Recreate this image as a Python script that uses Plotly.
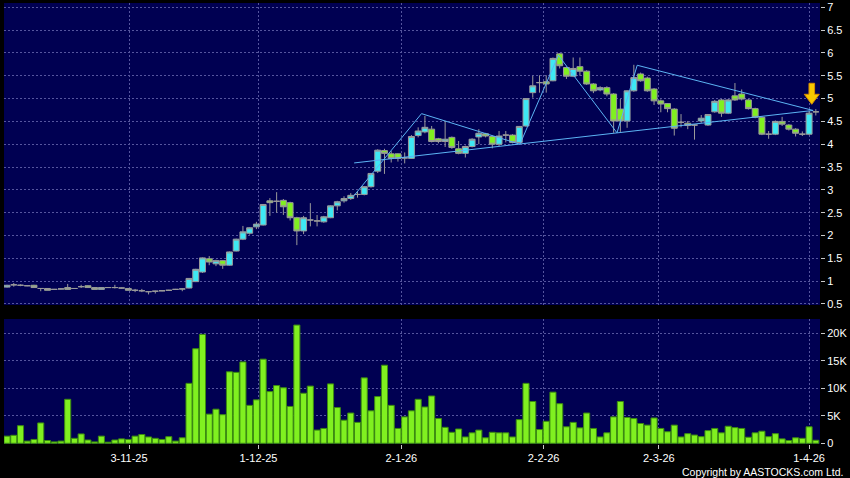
import plotly.graph_objects as go

# ---------------- data ----------------
bar_index = list(range(121))

opens = [0.87, 0.92, 0.91, 0.90, 0.91, 0.84, 0.84, 0.82, 0.83, 0.86,
         0.84, 0.88, 0.90, 0.86, 0.82, 0.86, 0.86, 0.85, 0.84, 0.80,
         0.79, 0.77, 0.78, 0.79, 0.80, 0.82, 0.83, 0.85, 0.99, 1.20,
         1.49, 1.38, 1.45, 1.35, 1.66, 1.92, 2.05, 2.19, 2.23, 2.76,
         2.75, 2.77, 2.72, 2.39, 2.10, 2.34, 2.32, 2.30, 2.39, 2.65,
         2.76, 2.81, 2.90, 2.90, 3.07, 3.41, 3.86, 3.79, 3.79, 3.70,
         3.69, 4.19, 4.27, 4.33, 4.12, 4.06, 4.15, 3.90, 3.80, 3.95,
         4.16, 4.23, 4.17, 4.00, 4.20, 4.20, 4.04, 4.40, 5.13, 5.35,
         5.37, 5.39, 5.98, 5.68, 5.49, 5.70, 5.60, 5.32, 5.19, 5.24,
         5.10, 4.77, 4.51, 5.17, 5.54, 5.45, 5.21, 4.95, 4.89, 4.77,
         4.48, 4.46, 4.42, 4.51, 4.42, 4.71, 4.97, 4.68, 5.06, 5.10,
         4.97, 4.78, 4.59, 4.22, 4.22, 4.50, 4.42, 4.33, 4.22, 4.22,
         4.71]
highs = [0.92, 0.96, 0.93, 0.91, 0.92, 0.85, 0.85, 0.83, 0.84, 0.94,
         0.85, 0.92, 0.91, 0.87, 0.87, 0.87, 0.92, 0.86, 0.85, 0.83,
         0.83, 0.78, 0.79, 0.80, 0.81, 0.83, 0.84, 1.07, 1.27, 1.52,
         1.55, 1.47, 1.46, 1.65, 1.93, 2.21, 2.18, 2.30, 2.69, 2.82,
         2.95, 2.80, 2.74, 2.41, 2.43, 2.71, 2.45, 2.43, 2.66, 2.76,
         2.86, 2.93, 2.97, 3.08, 3.37, 3.89, 3.90, 3.85, 3.80, 3.82,
         4.20, 4.37, 4.62, 4.40, 4.14, 4.51, 4.17, 4.07, 3.97, 4.13,
         4.33, 4.25, 4.19, 4.29, 4.29, 4.22, 4.40, 5.01, 5.50, 5.51,
         5.51, 5.90, 6.00, 5.70, 5.90, 5.90, 5.62, 5.34, 5.27, 5.27,
         5.12, 4.99, 5.18, 5.74, 5.57, 5.48, 5.23, 4.98, 4.90, 4.79,
         4.66, 4.51, 4.44, 4.64, 4.66, 4.97, 4.99, 4.99, 5.34, 5.20,
         4.99, 4.80, 4.61, 4.29, 4.52, 4.60, 4.44, 4.35, 4.28, 4.73,
         4.77]
lows = [0.86, 0.88, 0.89, 0.89, 0.86, 0.78, 0.80, 0.81, 0.82, 0.82,
        0.83, 0.85, 0.86, 0.82, 0.82, 0.85, 0.84, 0.84, 0.80, 0.76,
        0.76, 0.71, 0.73, 0.78, 0.79, 0.81, 0.78, 0.84, 0.98, 1.18,
        1.35, 1.33, 1.27, 1.34, 1.65, 1.90, 2.02, 2.14, 2.22, 2.43,
        2.50, 2.45, 2.33, 1.79, 2.03, 2.20, 2.20, 2.28, 2.38, 2.55,
        2.72, 2.78, 2.83, 2.88, 3.05, 3.37, 3.35, 3.60, 3.62, 3.58,
        3.68, 4.15, 4.24, 4.04, 4.02, 3.94, 3.90, 3.78, 3.71, 3.93,
        4.00, 4.15, 3.91, 3.96, 4.04, 4.02, 4.02, 4.38, 5.02, 5.13,
        5.13, 5.38, 5.66, 5.43, 5.47, 5.50, 5.30, 5.12, 5.16, 5.05,
        4.25, 4.27, 4.36, 5.15, 5.37, 5.15, 4.86, 4.70, 4.70, 4.19,
        4.37, 4.33, 4.10, 4.47, 4.40, 4.69, 4.60, 4.66, 4.95, 4.96,
        4.76, 4.57, 4.20, 4.12, 4.20, 4.40, 4.30, 4.17, 4.18, 4.20,
        4.63]
closes = [0.91, 0.92, 0.91, 0.90, 0.86, 0.84, 0.80, 0.82, 0.83, 0.82,
          0.84, 0.88, 0.86, 0.82, 0.86, 0.86, 0.86, 0.85, 0.80, 0.80,
          0.79, 0.77, 0.78, 0.79, 0.80, 0.82, 0.83, 1.06, 1.26, 1.51,
          1.42, 1.45, 1.35, 1.64, 1.92, 2.08, 2.17, 2.25, 2.68, 2.72,
          2.75, 2.63, 2.39, 2.10, 2.39, 2.34, 2.32, 2.41, 2.65, 2.74,
          2.81, 2.88, 2.90, 3.07, 3.36, 3.87, 3.80, 3.69, 3.69, 3.70,
          4.17, 4.29, 4.37, 4.06, 4.06, 4.11, 3.93, 3.80, 3.95, 4.11,
          4.24, 4.18, 4.00, 4.18, 4.20, 4.04, 4.39, 5.00, 5.28, 5.35,
          5.32, 5.88, 5.72, 5.49, 5.66, 5.60, 5.32, 5.17, 5.24, 5.10,
          4.51, 4.51, 5.17, 5.46, 5.39, 5.17, 4.95, 4.88, 4.78, 4.35,
          4.48, 4.41, 4.42, 4.57, 4.65, 4.94, 4.68, 4.97, 4.97, 4.99,
          4.78, 4.59, 4.22, 4.22, 4.50, 4.44, 4.33, 4.24, 4.22, 4.68,
          4.71]
volume_k = [1.3, 1.45, 3.2, 0.4, 0.7, 3.7, 0.5, 0.25, 0.4, 8.0,
            0.9, 1.7, 0.6, 0.25, 1.3, 0.2, 0.6, 0.8, 0.7, 1.3,
            1.6, 1.15, 0.9, 0.7, 1.2, 0.4, 1.0, 10.9, 17.2, 19.8,
            5.3, 6.2, 5.2, 13.0, 12.9, 14.8, 6.9, 7.9, 15.3, 9.4,
            10.5, 10.1, 6.7, 21.5, 9.1, 10.4, 2.4, 2.7, 10.8, 6.5,
            4.2, 5.5, 3.8, 11.9, 5.9, 8.5, 14.2, 6.9, 2.7, 4.8,
            5.9, 8.0, 6.6, 8.6, 4.5, 2.9, 2.0, 2.6, 1.15, 1.9,
            2.4, 1.0, 2.0, 1.9, 1.9, 1.15, 4.3, 10.9, 7.6, 2.5,
            4.0, 9.3, 7.2, 3.0, 3.8, 2.8, 5.5, 2.7, 1.15, 1.9,
            4.8, 7.6, 4.7, 4.5, 3.6, 3.3, 4.6, 2.7, 2.1, 3.3,
            1.15, 1.75, 1.5, 1.2, 2.3, 2.7, 1.9, 3.1, 2.85, 2.7,
            1.1, 1.9, 2.2, 1.2, 1.75, 0.8, 0.5, 1.0, 0.9, 3.0,
            0.55]

# trend lines (bar index, price)
zigzag_x = [51.4, 61.5, 76.1, 81.8, 90.5, 93.5, 119.6]
zigzag_y = [2.86, 4.67, 4.00, 5.95, 4.25, 5.73, 4.74]
support_x = [51.5, 119.6]
support_y = [3.59, 4.74]

date_tick_pos = [18.1, 37.3, 58.5, 79.6, 96.7, 119.0]
date_tick_labels = ["3-11-25", "1-12-25", "2-1-26", "2-2-26", "2-3-26", "1-4-26"]

price_ticks = [0.5, 1, 1.5, 2, 2.5, 3, 3.5, 4, 4.5, 5, 5.5, 6, 6.5, 7]
price_tick_labels = ["0.5", "1", "1.5", "2", "2.5", "3", "3.5", "4", "4.5", "5", "5.5", "6", "6.5", "7"]
vol_ticks = [0, 5, 10, 15, 20]
vol_tick_labels = ["0", "5K", "10K", "15K", "20K"]

# ---------------- style ----------------
NAVY = "#000052"
GRID = "#55559e"
CYAN = "#3ee8f4"
GREEN = "#80f020"
WICK = "#9a9a9a"
FONT = "Liberation Sans, Arial, sans-serif"

fig = go.Figure()

fig.add_trace(go.Candlestick(
    x=bar_index, open=opens, high=highs, low=lows, close=closes,
    xaxis="x", yaxis="y",
    increasing=dict(fillcolor=CYAN, line=dict(color=WICK, width=1)),
    decreasing=dict(fillcolor=GREEN, line=dict(color=WICK, width=1)),
    whiskerwidth=0, hoverinfo="skip", showlegend=False,
))

fig.add_trace(go.Scatter(x=support_x, y=support_y, mode="lines",
                         line=dict(color="#5cb4f4", width=1),
                         xaxis="x", yaxis="y", hoverinfo="skip", showlegend=False))
fig.add_trace(go.Scatter(x=zigzag_x, y=zigzag_y, mode="lines",
                         line=dict(color="#5cb4f4", width=1),
                         xaxis="x", yaxis="y", hoverinfo="skip", showlegend=False))

fig.add_trace(go.Bar(
    x=bar_index, y=volume_k, xaxis="x2", yaxis="y2",
    marker=dict(color=GREEN, line=dict(color="#3c8c10", width=1)),
    hoverinfo="skip", showlegend=False,
))

axis_font = dict(family=FONT, size=11, color="#ffffff")
x_range = [-0.45, 120.62]

fig.update_layout(
    width=850, height=478,
    margin=dict(l=4, r=30, t=3, b=34, autoexpand=False),
    paper_bgcolor="#000000",
    plot_bgcolor=NAVY,
    boxgap=0.12,
    boxgroupgap=0,
    bargap=0.1,
    font=dict(family=FONT, color="#ffffff", size=11),
    xaxis=dict(domain=[0, 1], anchor="y", range=x_range, matches="x2",
               tickvals=date_tick_pos, showticklabels=False, ticks="",
               showgrid=True, gridcolor=GRID, griddash="2px,2px", gridwidth=1,
               zeroline=False, showline=False, automargin=False,
               rangeslider=dict(visible=False)),
    xaxis2=dict(domain=[0, 1], anchor="y2", range=x_range,
                tickvals=date_tick_pos, ticktext=date_tick_labels,
                ticks="outside", ticklen=4, tickcolor="#c8c8c8",
                tickfont=axis_font, automargin=False,
                showgrid=True, gridcolor=GRID, griddash="2px,2px", gridwidth=1,
                zeroline=False, showline=False),
    yaxis=dict(domain=[0.3152, 1], anchor="x", side="right",
               range=[0.478, 7.094],
               tickvals=price_ticks, ticktext=price_tick_labels,
               ticks="outside", ticklen=4, tickcolor="#c8c8c8",
               tickfont=axis_font, automargin=False,
               showgrid=True, gridcolor=GRID, griddash="2px,2px", gridwidth=1,
               zeroline=False, showline=False),
    yaxis2=dict(domain=[0, 0.2834], anchor="x2", side="right",
                range=[-0.13, 22.6],
                tickvals=vol_ticks, ticktext=vol_tick_labels,
                ticks="outside", ticklen=4, tickcolor="#c8c8c8",
                tickfont=axis_font, automargin=False,
                showgrid=True, gridcolor=GRID, griddash="2px,2px", gridwidth=1,
                zeroline=False, showline=False),
    shapes=[dict(type="path", xref="x", yref="y",
                 xsizemode="pixel", ysizemode="pixel",
                 xanchor=119.4, yanchor=4.875,
                 path="M 0 0 L -7.5 10 L -2.8 10 L -2.8 21 L 2.8 21 L 2.8 10 L 7.5 10 Z",
                 fillcolor="#f8c800", line=dict(color="#d88c00", width=1),
                 layer="above")],
    annotations=[dict(text="Copyright by AASTOCKS.com Ltd.",
                      xref="paper", yref="paper", x=1.031, y=-0.063,
                      xanchor="right", yanchor="middle", showarrow=False,
                      font=dict(family=FONT, size=10.5, color="#ffffff"))],
)

fig.write_html(
    "out.html",
    config={"displayModeBar": False},
    post_script="document.body.style.margin='0';document.body.style.padding='0';"
                "document.body.style.background='#000000';"
                "document.body.style.overflow='hidden';",
)
